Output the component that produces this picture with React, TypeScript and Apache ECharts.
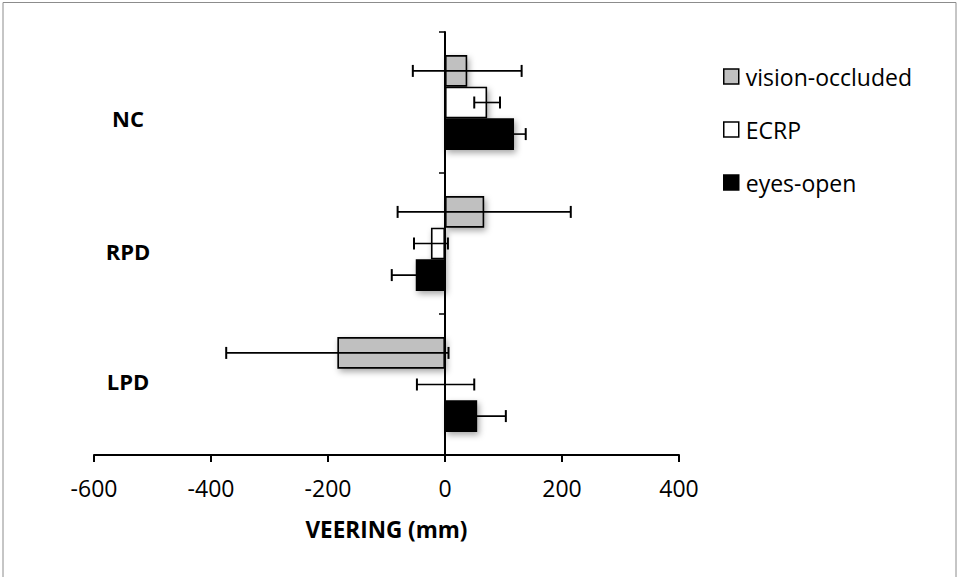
import React, { useEffect, useRef } from "react";
import * as echarts from "echarts";

const categories = ["NC", "RPD", "LPD"];
const seriesNames = ["vision-occluded", "ECRP", "eyes-open"];
const visionOccluded = [38, 67, -184];
const visionOccludedErr = [93, 148, 190];
const ecrp = [72, -24, 1];
const ecrpErr = [22, 29, 49];
const eyesOpen = [118, -50, 55];
const eyesOpenErr = [20, 41, 49];
const xTicks = { min: -600, max: 400, interval: 200 };

const fills = ["#c0c0c0", "#ffffff", "#000000"];
const FONT = "Open Sans";
const BAR_RATIO = 0.224;

export default function App() {
  const ref = useRef<HTMLDivElement>(null);
  useEffect(() => {
    if (!ref.current) return;
    const chart = echarts.init(ref.current, null, { renderer: "svg" });
    const values = [visionOccluded, ecrp, eyesOpen];
    const errs = [visionOccludedErr, ecrpErr, eyesOpenErr];
    const labelShift: Record<string, string> = { NC: "nc", RPD: "rpd", LPD: "lpd" };

    const barSeries = seriesNames.map((name, k) => ({
      type: "bar",
      name,
      yAxisIndex: 0,
      data: values[k],
      barWidth: BAR_RATIO * 100 + "%",
      barGap: "0%",
      itemStyle: {
        color: fills[k],
        borderColor: "#000",
        borderWidth: 1.6,
        shadowBlur: 6,
        shadowColor: "rgba(0,0,0,0.35)",
        shadowOffsetX: 2,
        shadowOffsetY: 3,
      },
      z: 2,
    }));

    const errSeries = seriesNames.map((name, k) => ({
      type: "custom",
      name: "_err_" + name,
      yAxisIndex: 0,
      z: 5,
      encode: { x: 1, y: 0 },
      data: categories.map((_, i) => [i, values[k][i], errs[k][i]]),
      renderItem: (params: any, api: any) => {
        const cat = api.value(0);
        const v = api.value(1);
        const e = api.value(2);
        const lo = api.coord([v - e, cat]);
        const hi = api.coord([v + e, cat]);
        const band = api.size([0, 1])[1];
        const y = lo[1] + (k - 1) * band * BAR_RATIO;
        const cap = 6;
        const st = { stroke: "#000", lineWidth: 1.6 };
        const capSt = { stroke: "#000", lineWidth: 2 };
        return {
          type: "group",
          children: [
            { type: "line", shape: { x1: lo[0], y1: y, x2: hi[0], y2: y }, style: st },
            { type: "line", shape: { x1: lo[0], y1: y - cap, x2: lo[0], y2: y + cap }, style: capSt },
            { type: "line", shape: { x1: hi[0], y1: y - cap, x2: hi[0], y2: y + cap }, style: capSt },
          ],
        };
      },
    }));

    chart.setOption({
      animation: false,
      backgroundColor: "#fff",
      textStyle: { fontFamily: FONT },
      graphic: [
        {
          type: "rect",
          shape: { x: 3, y: 2.5, width: 953, height: 620 },
          style: { fill: "none", stroke: "#8c8c8c", lineWidth: 1 },
          silent: true,
        },
      ],
      grid: { left: 94, right: 278, top: 32, bottom: 122 },
      legend: {
        data: seriesNames,
        orient: "vertical",
        left: 723,
        top: 65,
        padding: 0,
        itemWidth: 15,
        itemHeight: 15,
        itemGap: 30,
        icon: "rect",
        itemStyle: { borderColor: "#000", borderWidth: 1.5, shadowBlur: 0, shadowOffsetX: 0, shadowOffsetY: 0 },
        textStyle: { fontFamily: FONT, fontSize: 23, color: "#000", padding: [0, 0, 0, 2] },
      },
      xAxis: {
        type: "value",
        min: xTicks.min,
        max: xTicks.max,
        interval: xTicks.interval,
        splitLine: { show: false },
        axisLine: { show: true, lineStyle: { color: "#000", width: 2 } },
        axisTick: { show: true, length: 7, lineStyle: { color: "#000", width: 2 } },
        axisLabel: { fontFamily: FONT, fontSize: 23, color: "#000", margin: 21 },
        name: "VEERING (mm)",
        nameLocation: "middle",
        nameGap: 63,
        nameTextStyle: { fontFamily: FONT, fontSize: 22.5, fontWeight: "bold", color: "#000" },
      },
      yAxis: [
        {
          type: "category",
          data: categories,
          inverse: true,
          position: "left",
          axisLine: { show: false, onZero: false },
          axisTick: { show: false },
          axisLabel: {
            align: "center",
            margin: -34,
            formatter: (v: string) => `{${labelShift[v]}|${v}}`,
            rich: {
              nc: { fontFamily: FONT, fontSize: 22, fontWeight: "bold", color: "#000", padding: [30, 0, 0, 0] },
              rpd: { fontFamily: FONT, fontSize: 22, fontWeight: "bold", color: "#000", padding: [14, 0, 0, 0] },
              lpd: { fontFamily: FONT, fontSize: 22, fontWeight: "bold", color: "#000", padding: [0, 0, 8, 0] },
            },
          },
        },
        {
          type: "category",
          data: categories,
          inverse: true,
          position: "left",
          axisLine: { show: true, onZero: true, lineStyle: { color: "#000", width: 2 } },
          axisTick: { show: true, length: 6, lineStyle: { color: "#000", width: 1.5 } },
          axisLabel: { show: false },
        },
      ],
      series: [...barSeries, ...errSeries],
    });
    return () => chart.dispose();
  }, []);
  return (
    <div
      ref={ref}
      style={{ position: "fixed", left: 0, top: 0, width: 957, height: 577 }}
    />
  );
}
